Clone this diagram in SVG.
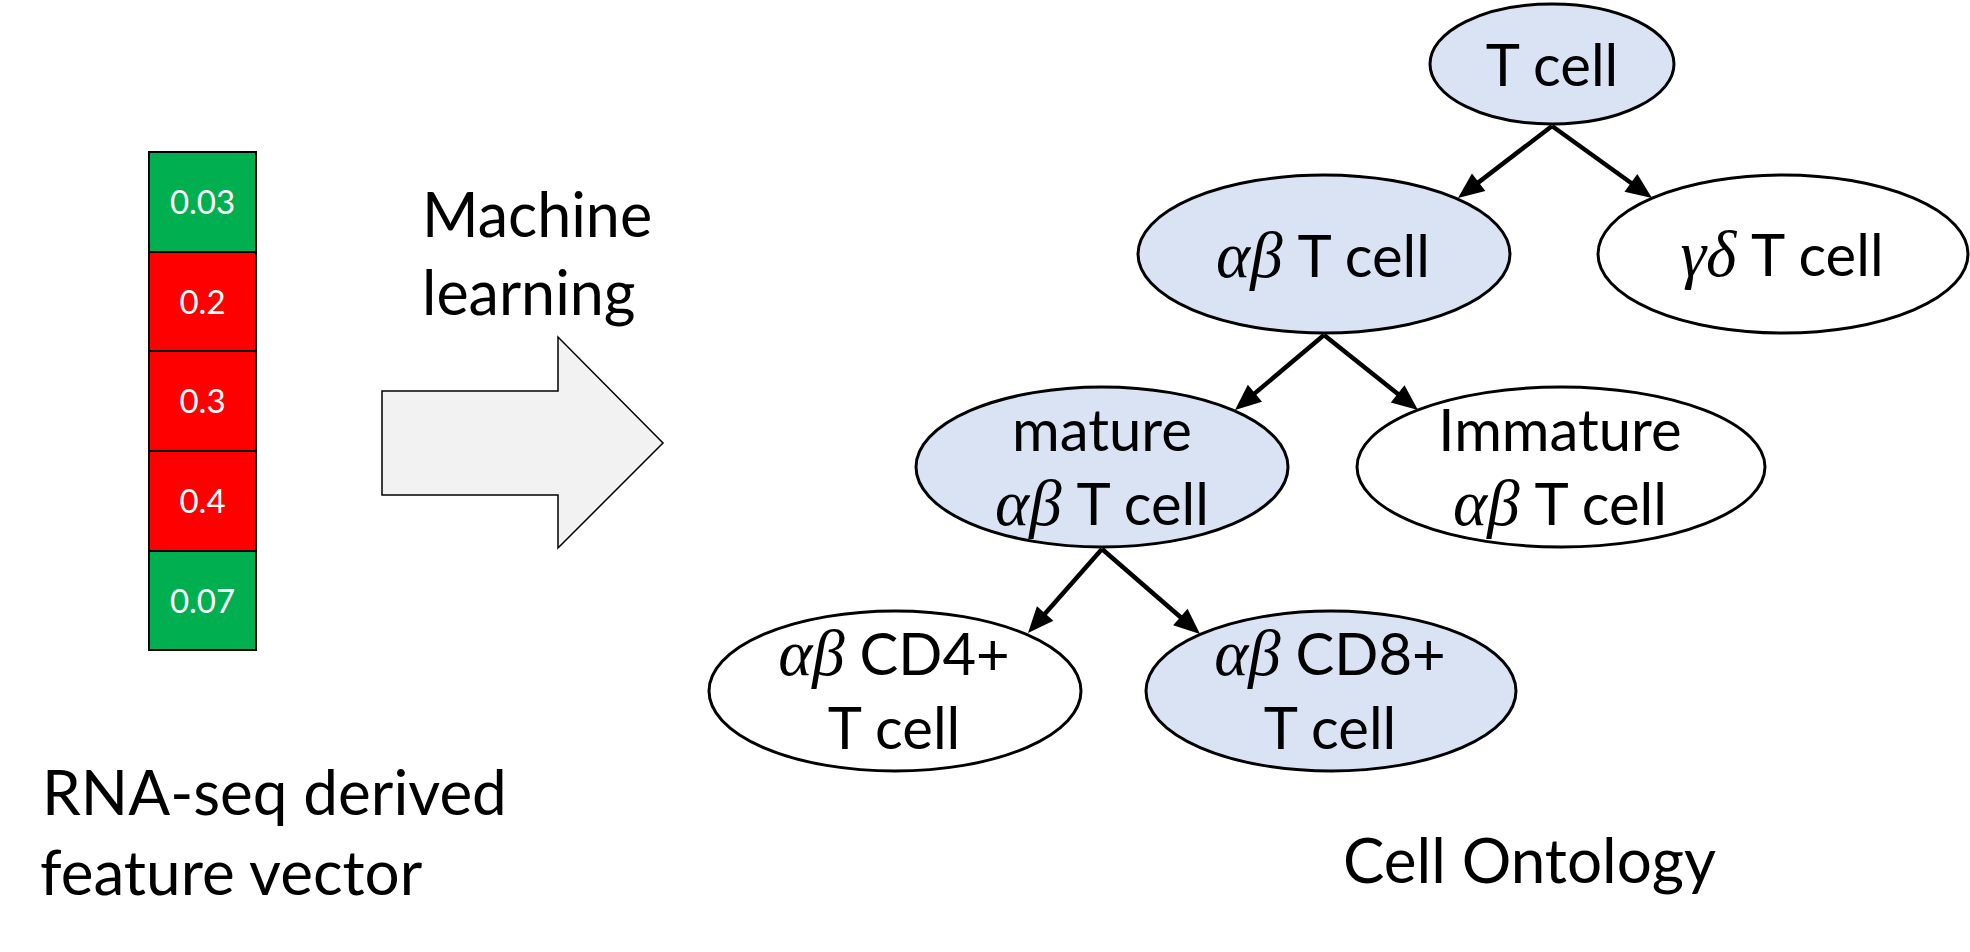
<svg xmlns="http://www.w3.org/2000/svg" width="1970" height="952" viewBox="0 0 1970 952">
<style>
.sans{font-family:Lato,"Open Sans","Liberation Sans",sans-serif;fill:#000}
.lbl{font-size:58px;text-anchor:middle}
.big{font-size:61px}
.gr{font-family:"Liberation Serif","DejaVu Serif",serif;font-style:italic;font-size:65px}
.num{font-family:Lato,"Liberation Sans",sans-serif;font-size:33px;fill:#fff;text-anchor:middle}
.node{stroke:#000;stroke-width:3}
.hl{fill:#dae3f3}
.pl{fill:#fff}
.cellg{fill:#00b050;stroke:#000;stroke-width:2}
.cellr{fill:#ff0000;stroke:#000;stroke-width:2}
.edge{stroke:#000;stroke-width:4.5;fill:none;marker-end:url(#ah)}
</style>
<defs>
<marker id="ah" markerUnits="userSpaceOnUse" markerWidth="26" markerHeight="22" refX="8" refY="11" orient="auto" overflow="visible">
<path d="M0,0 L26,11 L0,22 z" fill="#000"/>
</marker>
</defs>
<rect width="1970" height="952" fill="#fff"/>
<g id="feature-vector">
<rect class="cellg" x="149" y="152" width="107" height="100"/>
<rect class="cellr" x="149" y="252" width="107" height="99"/>
<rect class="cellr" x="149" y="351" width="107" height="100"/>
<rect class="cellr" x="149" y="451" width="107" height="100"/>
<rect class="cellg" x="149" y="551" width="107" height="99"/>
<text class="num" x="202.5" y="214">0.03</text>
<text class="num" x="202.5" y="314">0.2</text>
<text class="num" x="202.5" y="413">0.3</text>
<text class="num" x="202.5" y="513">0.4</text>
<text class="num" x="202.5" y="613">0.07</text>
</g>
<g id="vector-label">
<text class="sans" x="42" y="815" font-size="62">RNA-seq derived</text>
<text class="sans" x="40" y="895" font-size="62">feature vector</text>
</g>
<g id="ml-arrow">
<polygon points="382,391 558,391 558,337 663,443 558,548 558,495 382,495" fill="#f2f2f2" stroke="#000" stroke-width="1.5"/>
<text class="sans big" x="422" y="237">Machine</text>
<text class="sans big" x="422" y="315">learning</text>
</g>
<g id="connectors">
<line class="edge" x1="1552" y1="126" x2="1472.3" y2="187.1"/>
<line class="edge" x1="1552" y1="126" x2="1637.4" y2="187.5"/>
<line class="edge" x1="1324" y1="335" x2="1248.8" y2="398.4"/>
<line class="edge" x1="1324" y1="335" x2="1403.9" y2="398.8"/>
<line class="edge" x1="1102" y1="549" x2="1039.9" y2="619.5"/>
<line class="edge" x1="1102" y1="549" x2="1186.4" y2="622.2"/>
</g>
<g id="n-tcell">
<ellipse class="node hl" cx="1552" cy="64" rx="122" ry="60"/>
<text class="sans lbl" x="1552" y="86">T cell</text>
</g>
<g id="n-ab">
<ellipse class="node hl" cx="1324" cy="254" rx="186" ry="79"/>
<text class="sans lbl" x="1323" y="277"><tspan class="gr">αβ</tspan> T cell</text>
</g>
<g id="n-gd">
<ellipse class="node pl" cx="1783" cy="254" rx="185" ry="79"/>
<text class="sans lbl" x="1782" y="276"><tspan class="gr">γδ</tspan> T cell</text>
</g>
<g id="n-mature">
<ellipse class="node hl" cx="1102" cy="467" rx="186" ry="80"/>
<text class="sans lbl" x="1102" y="451">mature</text>
<text class="sans lbl" x="1102" y="525"><tspan class="gr">αβ</tspan> T cell</text>
</g>
<g id="n-immature">
<ellipse class="node pl" cx="1561" cy="467" rx="204" ry="80"/>
<text class="sans lbl" x="1560" y="451">Immature</text>
<text class="sans lbl" x="1560" y="525"><tspan class="gr">αβ</tspan> T cell</text>
</g>
<g id="n-cd4">
<ellipse class="node pl" cx="895" cy="691" rx="186" ry="80"/>
<text class="sans lbl" x="894" y="675"><tspan class="gr">αβ</tspan> CD4+</text>
<text class="sans lbl" x="894" y="749">T cell</text>
</g>
<g id="n-cd8">
<ellipse class="node hl" cx="1331" cy="691" rx="185" ry="80"/>
<text class="sans lbl" x="1330" y="675"><tspan class="gr">αβ</tspan> CD8+</text>
<text class="sans lbl" x="1330" y="749">T cell</text>
</g>
<g id="ontology-label">
<text class="sans" x="1343" y="883" font-size="62">Cell Ontology</text>
</g>
</svg>
